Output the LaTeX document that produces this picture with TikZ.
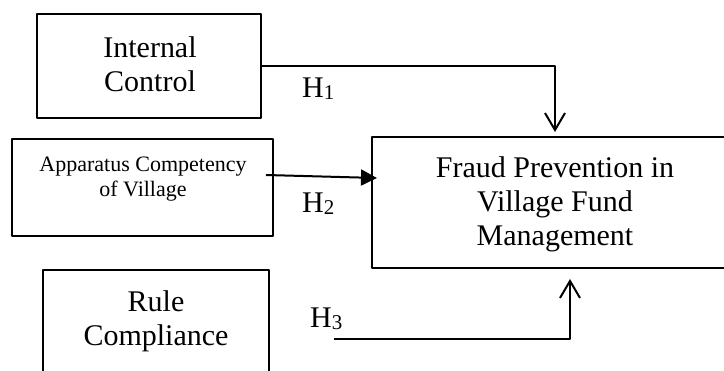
\documentclass[tikz,border=0pt]{standalone}
\usepackage{fontspec}
\setmainfont{Liberation Serif}
\usetikzlibrary{arrows.meta}
\newcommand\hlabel[1]{H\raisebox{-2pt}{\fontsize{21}{21}\selectfont #1}}
\begin{document}
\begin{tikzpicture}[x=1pt,y=-1pt,line join=round,
	varbox/.style={draw,line width=2pt,rectangle,inner sep=0pt},
	bigtext/.style={align=center,font=\fontsize{30}{34}\selectfont},
	smalltext/.style={align=center,font=\fontsize{22}{25}\selectfont},
	hyptext/.style={anchor=base west,inner sep=0pt,font=\fontsize{30}{34}\selectfont},
	link/.style={line width=2pt},
	openarrow/.style={link,-{Straight Barb[length=17pt,width=20pt,line width=2pt]}},
	fillarrow/.style={link,-{Triangle[length=16pt,width=16pt]}}]
	\clip (0,0) rectangle (724,371);
	% boxes
	\node[varbox,minimum width=224pt,minimum height=104pt] (ic) at (149,66) {};
	\node[bigtext] (ictext) at (150,64) {Internal\\Control};
	\node[varbox,minimum width=261pt,minimum height=97pt] (apc) at (142.5,187.5) {};
	\node[smalltext] (apctext) at (143,179) {Apparatus Competency\\of Village};
	\node[varbox,minimum width=226pt,minimum height=106pt] (rc) at (156,323) {};
	\node[bigtext] (rctext) at (156,321) {Rule\\Compliance};
	\node[varbox,minimum width=366pt,minimum height=131pt] (fpv) at (555,202.5) {};
	\node[bigtext] (fpvtext) at (555,204) {Fraud Prevention in\\Village Fund\\Management};
	% hypotheses
	\coordinate (h1end) at (555,132);
	\coordinate (h2start) at (266,175);
	\coordinate (h2end) at (377,178);
	\coordinate (h3start) at (334,339);
	\coordinate (h3end) at (570,279);
	\draw[openarrow] (ic.east) -| (h1end);
	\draw[fillarrow] (h2start) -- (h2end);
	\draw[openarrow] (h3start) -| (h3end);
	\node[hyptext] (h1) at (302,98) {\hlabel{1}};
	\node[hyptext] (h2) at (302,213) {\hlabel{2}};
	\node[hyptext] (h3) at (310,328) {\hlabel{3}};
\end{tikzpicture}
\end{document}
